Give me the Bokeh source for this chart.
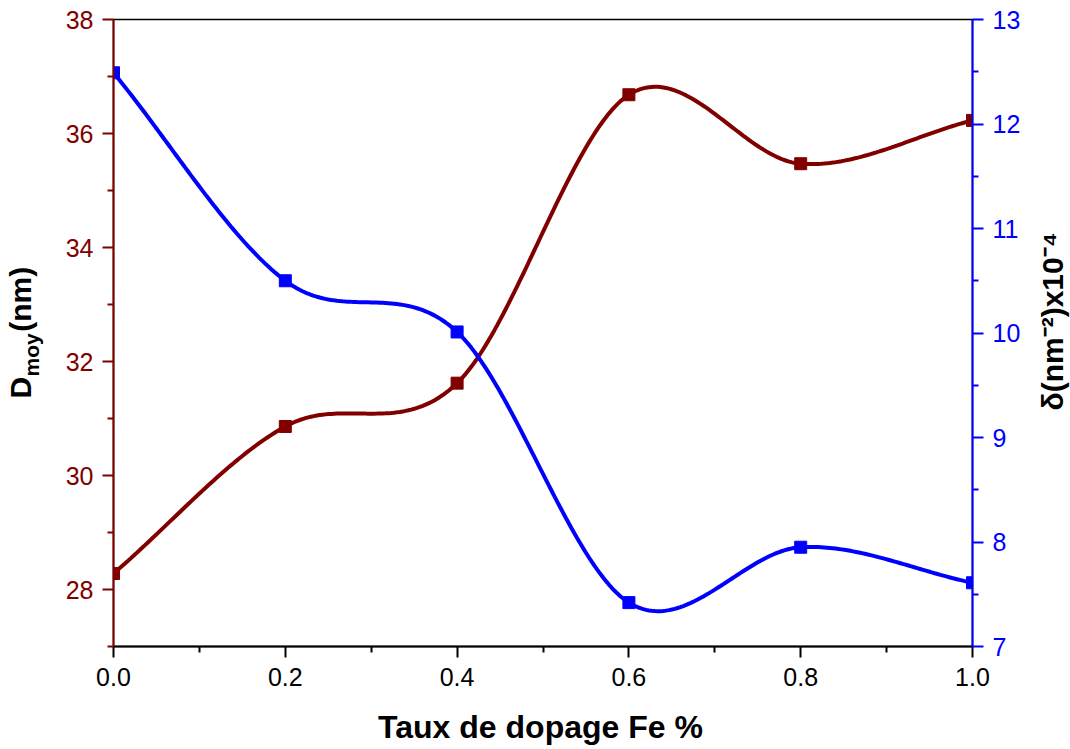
import numpy as np
from math import pi
from bokeh.plotting import figure
from bokeh.models import Range1d, LinearAxis, FixedTicker, Label
from bokeh.embed import file_html
from bokeh.resources import INLINE

# ---- data ----
doping = [0.0, 0.2, 0.4, 0.6, 0.8, 1.0]
d_moy = [28.28, 30.86, 31.62, 36.68, 35.47, 36.23]
delta = [12.49, 10.50, 10.01, 7.42, 7.95, 7.61]

x_ticks = [0.0, 0.2, 0.4, 0.6, 0.8, 1.0]
x_tick_labels = ["0.0", "0.2", "0.4", "0.6", "0.8", "1.0"]
x_minor = [0.1, 0.3, 0.5, 0.7, 0.9]
left_ticks = [28, 30, 32, 34, 36, 38]
left_minor = [27, 29, 31, 33, 35, 37]
right_ticks = [7, 8, 9, 10, 11, 12, 13]
right_minor = [7.5, 8.5, 9.5, 10.5, 11.5, 12.5]

X0, X1 = 0.0, 1.0
Y0, Y1 = 27.0, 38.0
R0, R1 = 7.0, 13.0

BROWN = "#800000"
BLUE = "#0000FF"
FONT = "Liberation Sans"
TICK_FS = "25px"


def smooth(xs, ys, n=60):
    """Catmull-Rom (cardinal) spline through the given points."""
    x = np.asarray(xs, float)
    y = np.asarray(ys, float)
    m = len(x)
    t = np.zeros(m)
    t[0] = (y[1] - y[0]) / (x[1] - x[0])
    t[-1] = (y[-1] - y[-2]) / (x[-1] - x[-2])
    t[1:-1] = (y[2:] - y[:-2]) / (x[2:] - x[:-2])
    out_x, out_y = [], []
    for i in range(m - 1):
        h = x[i + 1] - x[i]
        s = np.linspace(0, 1, n, endpoint=(i == m - 2))
        h00 = 2 * s**3 - 3 * s**2 + 1
        h10 = s**3 - 2 * s**2 + s
        h01 = -2 * s**3 + 3 * s**2
        h11 = s**3 - s**2
        out_x.append(x[i] + s * h)
        out_y.append(h00 * y[i] + h10 * h * t[i] + h01 * y[i + 1] + h11 * h * t[i + 1])
    return np.concatenate(out_x), np.concatenate(out_y)


W, H = 1070, 749
FL, FR, FT, FB = 113, 972, 19, 646

p = figure(width=W, height=H, output_backend="svg", toolbar_location=None,
           x_range=Range1d(X0, X1), y_range=Range1d(Y0, Y1),
           min_border_left=FL, min_border_right=W - FR,
           min_border_top=FT, min_border_bottom=H - FB)
p.extra_y_ranges = {"right": Range1d(R0, R1)}
p.xgrid.visible = False
p.ygrid.visible = False
p.outline_line_color = "black"
p.outline_line_width = 1.5
p.background_fill_color = "white"
p.border_fill_color = "white"

# bottom axis
xa = p.xaxis[0]
xa.ticker = FixedTicker(ticks=x_ticks, minor_ticks=x_minor)
xa.major_label_overrides = {t: l for t, l in zip(x_ticks, x_tick_labels)}
xa.axis_line_color = "black"
xa.axis_line_width = 2
xa.major_tick_line_color = "black"
xa.major_tick_line_width = 2
xa.minor_tick_line_color = "black"
xa.minor_tick_line_width = 2
xa.major_tick_in = 0
xa.major_tick_out = 11
xa.minor_tick_in = 0
xa.minor_tick_out = 6
xa.major_label_text_font = FONT
xa.major_label_text_font_size = TICK_FS
xa.major_label_text_color = "black"
xa.major_label_standoff = 10

# left axis
ya = p.yaxis[0]
ya.ticker = FixedTicker(ticks=left_ticks, minor_ticks=left_minor)
for attr in ("axis_line_color", "major_tick_line_color", "minor_tick_line_color",
             "major_label_text_color"):
    setattr(ya, attr, BROWN)
ya.axis_line_width = 2
ya.major_tick_line_width = 2
ya.minor_tick_line_width = 2
ya.major_tick_in = 0
ya.major_tick_out = 11
ya.minor_tick_in = 0
ya.minor_tick_out = 6
ya.major_label_text_font = FONT
ya.major_label_text_font_size = TICK_FS
ya.major_label_standoff = 9

# right axis
ra = LinearAxis(y_range_name="right",
                ticker=FixedTicker(ticks=right_ticks, minor_ticks=right_minor))
for attr in ("axis_line_color", "major_tick_line_color", "minor_tick_line_color",
             "major_label_text_color"):
    setattr(ra, attr, BLUE)
ra.axis_line_width = 2
ra.major_tick_line_width = 2
ra.minor_tick_line_width = 2
ra.major_tick_in = 0
ra.major_tick_out = 11
ra.minor_tick_in = 0
ra.minor_tick_out = 6
ra.major_label_text_font = FONT
ra.major_label_text_font_size = TICK_FS
ra.major_label_standoff = 9
p.add_layout(ra, "right")

# curves
bx, by = smooth(doping, d_moy)
p.line(bx, by, line_color=BROWN, line_width=4)
p.scatter(doping, d_moy, marker="square", size=12, fill_color=BROWN, line_color=BROWN)

cx, cy = smooth(doping, delta)
p.line(cx, cy, line_color=BLUE, line_width=4, y_range_name="right")
p.scatter(doping, delta, marker="square", size=12, fill_color=BLUE, line_color=BLUE,
          y_range_name="right")


# ---- titles (pixel positions converted through the plot ranges) ----
def xd(px):
    return X0 + (px - FL) / (FR - FL) * (X1 - X0)


def yd(py):
    return Y0 + (FB - py) / (FB - FT) * (Y1 - Y0)


MID = 0.3465  # distance from alphabetic baseline to 'middle', in em


def lab(text, px, base, size, side, angle=0.0, align="left", rotated=False):
    # base: baseline position (x for rotated texts, y for horizontal ones)
    if rotated:
        x, y = xd(base - MID * size), yd(px)
    else:
        x, y = xd(px), yd(base - MID * size)
    p.add_layout(Label(x=x, y=y, text=text, angle=angle,
                       text_font=FONT, text_font_style="bold",
                       text_font_size=f"{size}px", text_color="black",
                       text_align=align, text_baseline="middle"), side)


lab("Taux de dopage Fe %", 540, 738, 32, "below", align="center")

# left title: D_moy(nm)  (the em + en space leaves room for the subscript)
lab("D\u2003\u2002(nm)", 398, 30, 30, "left", angle=pi / 2, rotated=True)
lab("moy", 376, 38, 21, "left", angle=pi / 2, rotated=True)

# right title
lab("δ(nm⁻²)x10⁻⁴", 410, 1062, 30, "right", angle=pi / 2, rotated=True)

open("out.html", "w").write(file_html(p, INLINE))
